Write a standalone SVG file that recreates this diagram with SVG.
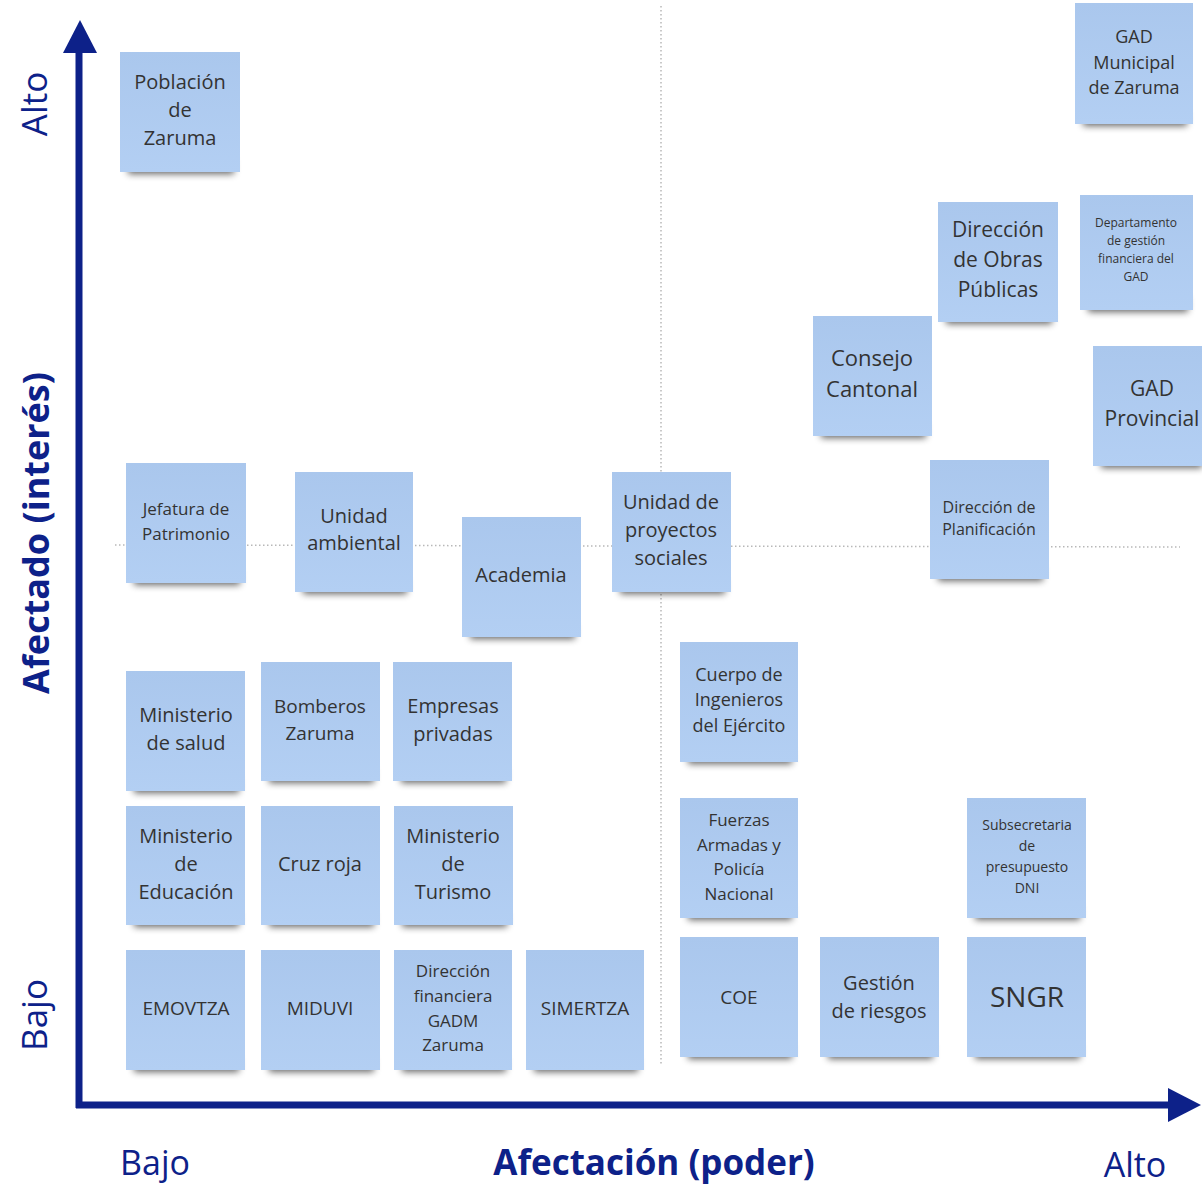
<svg xmlns="http://www.w3.org/2000/svg" width="1202" height="1186" viewBox="0 0 1202 1186">
<defs>
<filter id="blur" x="-20%" y="-100%" width="140%" height="300%"><feGaussianBlur stdDeviation="3.5"/></filter>
<linearGradient id="paper" x1="0" y1="0" x2="0" y2="1"><stop offset="0" stop-color="#aac7ed"/><stop offset="1" stop-color="#b3cff3"/></linearGradient>
</defs>
<style>
.note{fill:url(#paper)}
.sh{fill:#000;opacity:.6;filter:url(#blur)}
.t{font-family:"Open Sans","Noto Sans",sans-serif;fill:#333;text-anchor:middle}
.ax{font-family:"Open Sans","Noto Sans",sans-serif;fill:#0d2189}
.guide{stroke:#b8b8b8;stroke-width:1.5;stroke-dasharray:1.5 2.5;fill:none}
</style>
<rect width="1202" height="1186" fill="#fff"/>
<g id="guides">
<line class="guide" x1="661" y1="6" x2="661" y2="1065"/>
<line class="guide" x1="115" y1="545" x2="1180" y2="547"/>
</g>
<g id="connectors">
<line x1="79" y1="50" x2="79" y2="1108" stroke="#0d2189" stroke-width="7"/>
<polygon points="63,53 80,20 97,53" fill="#0d2189"/>
<line x1="76" y1="1105" x2="1170" y2="1105" stroke="#0d2189" stroke-width="7"/>
<polygon points="1168,1088 1201,1105 1168,1122" fill="#0d2189"/>
</g>
<g id="axis-labels">
<text class="ax" font-size="35" text-anchor="middle" transform="translate(47,104) rotate(-90)">Alto</text>
<text class="ax" font-size="35" text-anchor="middle" transform="translate(47,1015) rotate(-90)">Bajo</text>
<text class="ax" font-size="36" font-weight="bold" text-anchor="middle" transform="translate(49,533) rotate(-90)">Afectado (interés)</text>
<text class="ax" font-size="35" font-weight="bold" text-anchor="middle" x="654" y="1175">Afectación (poder)</text>
<text class="ax" font-size="34" text-anchor="middle" x="155" y="1175">Bajo</text>
<text class="ax" font-size="34" text-anchor="middle" x="1135" y="1177">Alto</text>
</g>
<g id="n1"><rect class="sh" x="128" y="160" width="106" height="14"/><rect class="note" x="120" y="52" width="120" height="120"/>
<text class="t" font-size="20"><tspan x="180" y="89">Población</tspan><tspan x="180" y="117">de</tspan><tspan x="180" y="145">Zaruma</tspan></text></g>
<g id="n2"><rect class="sh" x="1083" y="112" width="104" height="14"/><rect class="note" x="1075" y="3" width="118" height="121"/>
<text class="t" font-size="18"><tspan x="1134" y="43">GAD</tspan><tspan x="1134" y="69">Municipal</tspan><tspan x="1134" y="94">de Zaruma</tspan></text></g>
<g id="n3"><rect class="sh" x="946" y="310" width="106" height="14"/><rect class="note" x="938" y="202" width="120" height="120"/>
<text class="t" font-size="21"><tspan x="998" y="237">Dirección</tspan><tspan x="998" y="267">de Obras</tspan><tspan x="998" y="297">Públicas</tspan></text></g>
<g id="n4"><rect class="sh" x="1088" y="298" width="100" height="14"/><rect class="note" x="1080" y="195" width="113" height="115"/>
<text class="t" font-size="12"><tspan x="1136" y="227">Departamento</tspan><tspan x="1136" y="245">de gestión</tspan><tspan x="1136" y="263">financiera del</tspan><tspan x="1136" y="281">GAD</tspan></text></g>
<g id="n5"><rect class="sh" x="821" y="424" width="105" height="14"/><rect class="note" x="813" y="316" width="119" height="120"/>
<text class="t" font-size="22"><tspan x="872" y="366">Consejo</tspan><tspan x="872" y="397">Cantonal</tspan></text></g>
<g id="n6"><rect class="sh" x="1101" y="454" width="101" height="14"/><rect class="note" x="1093" y="346" width="109" height="120"/>
<text class="t" font-size="21"><tspan x="1152" y="396">GAD</tspan><tspan x="1152" y="426">Provincial</tspan></text></g>
<g id="n7"><rect class="sh" x="134" y="571" width="106" height="14"/><rect class="note" x="126" y="463" width="120" height="120"/>
<text class="t" font-size="17"><tspan x="186" y="515">Jefatura de</tspan><tspan x="186" y="540">Patrimonio</tspan></text></g>
<g id="n8"><rect class="sh" x="303" y="580" width="104" height="14"/><rect class="note" x="295" y="472" width="118" height="120"/>
<text class="t" font-size="20"><tspan x="354" y="523">Unidad</tspan><tspan x="354" y="550">ambiental</tspan></text></g>
<g id="n9"><rect class="sh" x="470" y="625" width="105" height="14"/><rect class="note" x="462" y="517" width="119" height="120"/>
<text class="t" font-size="20"><tspan x="521" y="582">Academia</tspan></text></g>
<g id="n10"><rect class="sh" x="620" y="580" width="105" height="14"/><rect class="note" x="612" y="472" width="119" height="120"/>
<text class="t" font-size="20"><tspan x="671" y="509">Unidad de</tspan><tspan x="671" y="537">proyectos</tspan><tspan x="671" y="565">sociales</tspan></text></g>
<g id="n11"><rect class="sh" x="938" y="567" width="105" height="14"/><rect class="note" x="930" y="460" width="119" height="119"/>
<text class="t" font-size="16"><tspan x="989" y="513">Dirección de</tspan><tspan x="989" y="535">Planificación</tspan></text></g>
<g id="n12"><rect class="sh" x="688" y="750" width="104" height="14"/><rect class="note" x="680" y="642" width="118" height="120"/>
<text class="t" font-size="18"><tspan x="739" y="681">Cuerpo de</tspan><tspan x="739" y="706">Ingenieros</tspan><tspan x="739" y="732">del Ejército</tspan></text></g>
<g id="n13"><rect class="sh" x="134" y="779" width="105" height="14"/><rect class="note" x="126" y="671" width="119" height="120"/>
<text class="t" font-size="20"><tspan x="186" y="722">Ministerio</tspan><tspan x="186" y="750">de salud</tspan></text></g>
<g id="n14"><rect class="sh" x="269" y="769" width="105" height="14"/><rect class="note" x="261" y="662" width="119" height="119"/>
<text class="t" font-size="19"><tspan x="320" y="713">Bomberos</tspan><tspan x="320" y="740">Zaruma</tspan></text></g>
<g id="n15"><rect class="sh" x="401" y="769" width="105" height="14"/><rect class="note" x="393" y="662" width="119" height="119"/>
<text class="t" font-size="20"><tspan x="453" y="713">Empresas</tspan><tspan x="453" y="741">privadas</tspan></text></g>
<g id="n16"><rect class="sh" x="134" y="913" width="105" height="14"/><rect class="note" x="126" y="806" width="119" height="119"/>
<text class="t" font-size="20"><tspan x="186" y="843">Ministerio</tspan><tspan x="186" y="871">de</tspan><tspan x="186" y="899">Educación</tspan></text></g>
<g id="n17"><rect class="sh" x="269" y="913" width="105" height="14"/><rect class="note" x="261" y="806" width="119" height="119"/>
<text class="t" font-size="20"><tspan x="320" y="871">Cruz roja</tspan></text></g>
<g id="n18"><rect class="sh" x="402" y="913" width="105" height="14"/><rect class="note" x="394" y="806" width="119" height="119"/>
<text class="t" font-size="20"><tspan x="453" y="843">Ministerio</tspan><tspan x="453" y="871">de</tspan><tspan x="453" y="899">Turismo</tspan></text></g>
<g id="n19"><rect class="sh" x="688" y="906" width="104" height="14"/><rect class="note" x="680" y="798" width="118" height="120"/>
<text class="t" font-size="17"><tspan x="739" y="826">Fuerzas</tspan><tspan x="739" y="851">Armadas y</tspan><tspan x="739" y="875">Policía</tspan><tspan x="739" y="900">Nacional</tspan></text></g>
<g id="n20"><rect class="sh" x="975" y="906" width="105" height="14"/><rect class="note" x="967" y="798" width="119" height="120"/>
<text class="t" font-size="14"><tspan x="1027" y="830">Subsecretaria</tspan><tspan x="1027" y="851">de</tspan><tspan x="1027" y="872">presupuesto</tspan><tspan x="1027" y="893">DNI</tspan></text></g>
<g id="n21"><rect class="sh" x="134" y="1058" width="105" height="14"/><rect class="note" x="126" y="950" width="119" height="120"/>
<text class="t" font-size="19"><tspan x="186" y="1015">EMOVTZA</tspan></text></g>
<g id="n22"><rect class="sh" x="269" y="1058" width="105" height="14"/><rect class="note" x="261" y="950" width="119" height="120"/>
<text class="t" font-size="19"><tspan x="320" y="1015">MIDUVI</tspan></text></g>
<g id="n23"><rect class="sh" x="402" y="1058" width="104" height="14"/><rect class="note" x="394" y="950" width="118" height="120"/>
<text class="t" font-size="17"><tspan x="453" y="977">Dirección</tspan><tspan x="453" y="1002">financiera</tspan><tspan x="453" y="1027">GADM</tspan><tspan x="453" y="1051">Zaruma</tspan></text></g>
<g id="n24"><rect class="sh" x="534" y="1058" width="104" height="14"/><rect class="note" x="526" y="950" width="118" height="120"/>
<text class="t" font-size="19"><tspan x="585" y="1015">SIMERTZA</tspan></text></g>
<g id="n25"><rect class="sh" x="688" y="1045" width="104" height="14"/><rect class="note" x="680" y="937" width="118" height="120"/>
<text class="t" font-size="19"><tspan x="739" y="1004">COE</tspan></text></g>
<g id="n26"><rect class="sh" x="828" y="1045" width="105" height="14"/><rect class="note" x="820" y="937" width="119" height="120"/>
<text class="t" font-size="20"><tspan x="879" y="990">Gestión</tspan><tspan x="879" y="1018">de riesgos</tspan></text></g>
<g id="n27"><rect class="sh" x="975" y="1045" width="105" height="14"/><rect class="note" x="967" y="937" width="119" height="120"/>
<text class="t" font-size="28"><tspan x="1027" y="1007">SNGR</tspan></text></g>
</svg>
